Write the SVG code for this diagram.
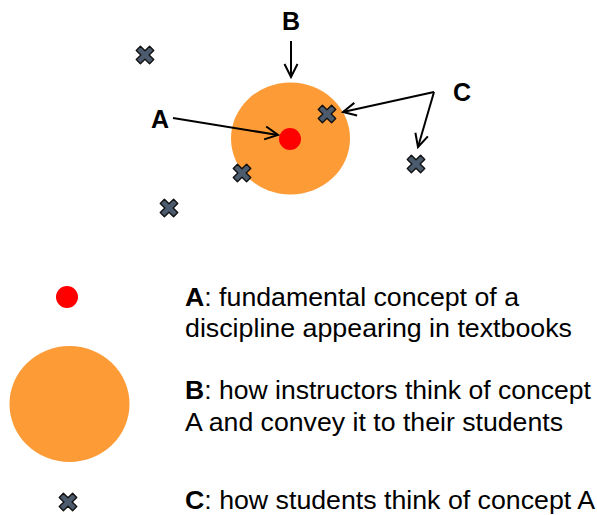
<svg xmlns="http://www.w3.org/2000/svg" width="597" height="515" viewBox="0 0 597 515">
<style>
text{font-family:"Liberation Sans",Arial,sans-serif;fill:#000}
.lbl{font-size:25px;font-weight:bold}
.leg{font-size:26.5px}
.orange{fill:#fd9b37}
.red{fill:#ff0000}
.conn line{stroke:#000;stroke-width:2;fill:none}
.ah{fill:none;stroke:#000;stroke-width:2}
</style>
<defs>
<marker id="arr" viewBox="0 0 16 16" refX="14" refY="8" markerWidth="16" markerHeight="16" markerUnits="userSpaceOnUse" orient="auto">
<path d="M1,1.5 L14,8 L1,14.5" class="ah"/>
</marker>
<path id="x" d="M-5,-9.5 L0,-4.5 L5,-9.5 L9.5,-5 L4.5,0 L9.5,5 L5,9.5 L0,4.5 L-5,9.5 L-9.5,5 L-4.5,0 L-9.5,-5 Z" fill="#4d5b6e" stroke="#111" stroke-width="1.5" stroke-linejoin="round" transform="scale(0.92)"/>
</defs>
<g id="nodeB"><ellipse class="orange" cx="290.5" cy="138.5" rx="59.5" ry="56"/></g>
<g id="nodeA"><circle class="red" cx="290" cy="139" r="11"/></g>
<g id="students">
<use href="#x" x="145" y="55"/>
<use href="#x" x="327" y="114"/>
<use href="#x" x="416" y="164"/>
<use href="#x" x="242" y="173"/>
<use href="#x" x="169" y="208"/>
</g>
<g id="labels">
<text class="lbl" x="291" y="30" text-anchor="middle">B</text>
<text class="lbl" x="160" y="128" text-anchor="middle">A</text>
<text class="lbl" x="462" y="101" text-anchor="middle">C</text>
</g>
<g class="conn" id="connectors">
<line x1="291" y1="41" x2="291" y2="77" marker-end="url(#arr)"/>
<line x1="173" y1="118" x2="278" y2="135" marker-end="url(#arr)"/>
<line x1="434" y1="92" x2="343" y2="112" marker-end="url(#arr)"/>
<line x1="434" y1="92" x2="418" y2="147" marker-end="url(#arr)"/>
</g>
<g id="legend">
<g id="legA"><ellipse class="red" cx="67" cy="297" rx="11" ry="11"/>
<text class="leg" x="185" y="305.5" textLength="334" lengthAdjust="spacingAndGlyphs"><tspan font-weight="bold">A</tspan>: fundamental concept of a</text>
<text class="leg" x="185" y="336.5" textLength="387" lengthAdjust="spacingAndGlyphs">discipline appearing in textbooks</text></g>
<g id="legB"><ellipse class="orange" cx="69.5" cy="404" rx="60" ry="58"/>
<text class="leg" x="185" y="399" textLength="406" lengthAdjust="spacingAndGlyphs"><tspan font-weight="bold">B</tspan>: how instructors think of concept</text>
<text class="leg" x="185" y="431" textLength="378" lengthAdjust="spacingAndGlyphs">A and convey it to their students</text></g>
<g id="legC"><use href="#x" x="68" y="502"/>
<text class="leg" x="185" y="509" textLength="410" lengthAdjust="spacingAndGlyphs"><tspan font-weight="bold">C</tspan>: how students think of concept A</text></g>
</g>
</svg>
